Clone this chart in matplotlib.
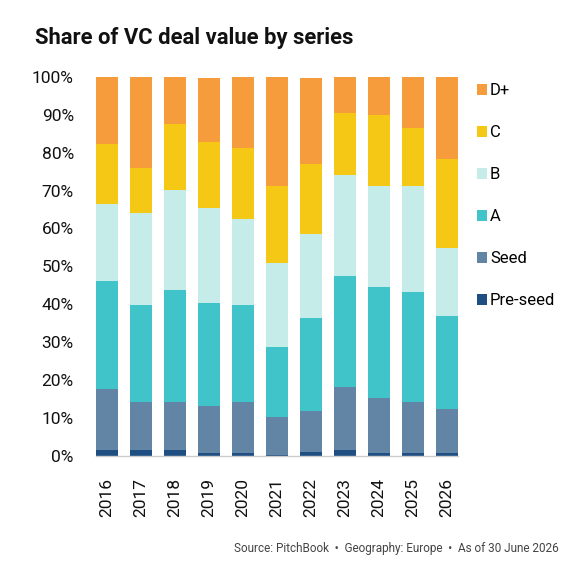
import matplotlib.pyplot as plt
import numpy as np

plt.rcParams['font.family'] = ['Roboto', 'DejaVu Sans']

# Share of VC deal value by series (%)
years = ['2016', '2017', '2018', '2019', '2020', '2021', '2022', '2023', '2024', '2025', '2026']
pre_seed = [1.6, 1.6, 1.6, 0.8, 0.8, 0.3, 1.1, 1.6, 0.8, 0.8, 0.8]
seed = [16.1, 12.6, 12.6, 12.4, 13.4, 10.0, 10.8, 16.6, 14.5, 13.4, 11.6]
series_a = [28.4, 25.6, 29.6, 27.1, 25.6, 18.4, 24.5, 29.3, 29.3, 29.0, 24.5]
series_b = [20.3, 24.3, 26.3, 25.1, 22.7, 22.2, 22.1, 26.6, 26.6, 28.0, 17.9]
series_c = [15.8, 11.8, 17.4, 17.4, 18.7, 20.3, 18.5, 16.3, 18.7, 15.3, 23.5]
series_d = [17.8, 24.1, 12.5, 16.8, 18.8, 28.8, 22.6, 9.6, 10.1, 13.5, 21.7]

labels = ['Pre-seed', 'Seed', 'A', 'B', 'C', 'D+']
colors = ['#1F4F82', '#6285A6', '#40C4C9', '#C6ECEA', '#F5C815', '#F79C3D']
stack = [pre_seed, seed, series_a, series_b, series_c, series_d]

fig = plt.figure(figsize=(5.84, 5.73), dpi=100)
ax = fig.add_axes([0.1644, 0.2042, 0.7842 - 0.1644, 0.8661 - 0.2042])

x = np.arange(len(years))
width = 0.65
bottom = np.zeros(len(years))
handles = []
for vals, lab, col in zip(stack, labels, colors):
    b = ax.bar(x, vals, width, bottom=bottom, color=col, label=lab, linewidth=0)
    handles.append(b)
    bottom += np.array(vals)

ax.set_xlim(-width / 2, len(years) - 1 + width / 2)
ax.set_ylim(0, 100)
ax.set_yticks(np.arange(0, 101, 10))
ax.set_yticklabels([f'{v}%' for v in range(0, 101, 10)], fontsize=12.5, color='#111111')
ax.set_xticks(x)
ax.set_xticklabels(years, rotation=90, fontsize=12.5, color='#111111')
ax.tick_params(axis='both', length=0)
ax.tick_params(axis='y', pad=16)
ax.tick_params(axis='x', pad=15.5)

for s in ['top', 'right', 'left']:
    ax.spines[s].set_visible(False)
ax.spines['bottom'].set_color('#cccccc')
ax.spines['bottom'].set_linewidth(1)

ax.legend(handles[::-1], labels[::-1], loc='upper left', bbox_to_anchor=(1.033, 1.0),
          frameon=False, fontsize=12, handlelength=0.6, handleheight=0.6,
          handletextpad=0.2, labelspacing=1.62, borderaxespad=0)

fig.text(35 / 584, 1 - 44 / 573, 'Share of VC deal value by series', fontsize=15.8,
         fontweight='bold', color='#111111', ha='left', va='baseline')
fig.text(559 / 584, 1 - 552 / 573,
         'Source: PitchBook  \u2022  Geography: Europe  \u2022  As of 30 June 2026',
         fontsize=8.5, color='#444444', ha='right', va='baseline')

plt.savefig('out.png', dpi=100)
